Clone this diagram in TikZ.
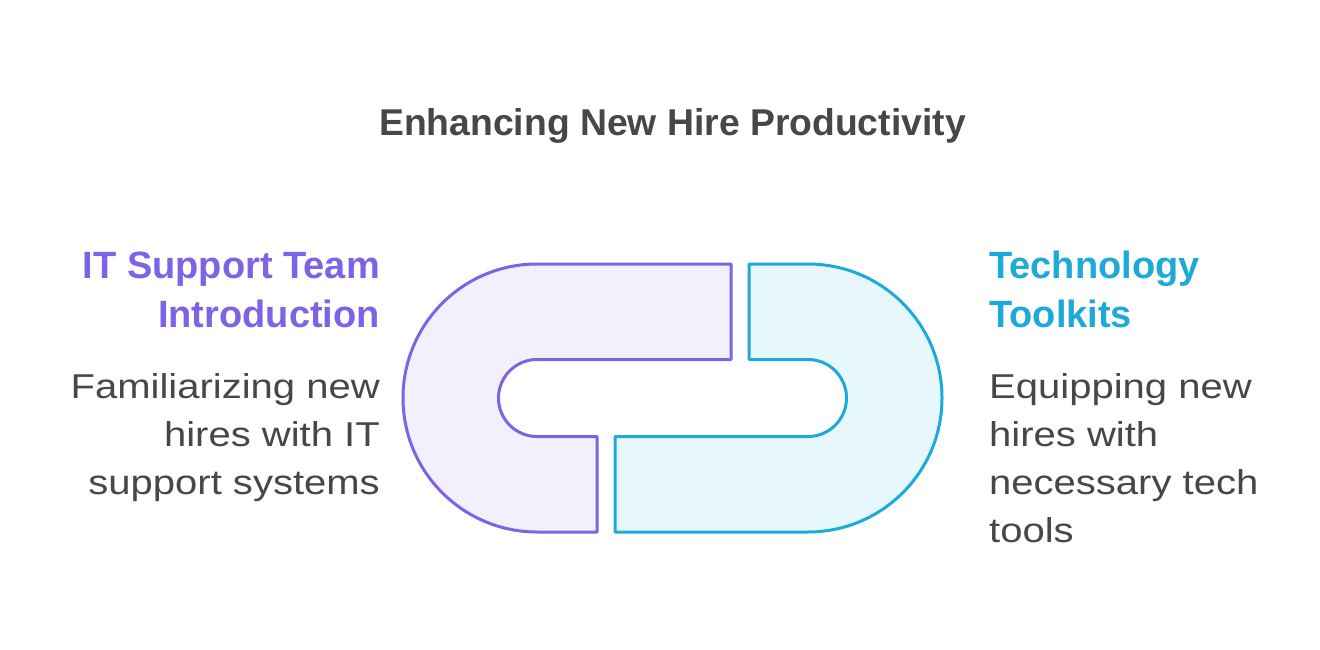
\documentclass[tikz,border=0pt]{standalone}
\usepackage{fontspec}
\setmainfont{Liberation Sans}
\newfontfamily\bodyfont[FakeStretch=1.16]{Liberation Sans}
\definecolor{purp}{HTML}{7D63E6}
\definecolor{purpfill}{HTML}{F2F0FD}
\definecolor{cyanb}{HTML}{1EAAD9}
\definecolor{cyanfill}{HTML}{E6F7FD}
\definecolor{txt}{HTML}{474747}
\tikzset{
  link/.style={line width=3pt, line join=round},
  heading/.style={font=\fontsize{38}{49}\selectfont\bfseries, inner sep=0pt},
  body/.style={font=\bodyfont\fontsize{34.5}{48}\selectfont, text=txt, inner sep=0pt},
  titletext/.style={font=\fontsize{37.3}{44}\selectfont\bfseries, text=txt, inner sep=0pt}
}
\begin{document}
\begin{tikzpicture}[x=1pt,y=-1pt]
\useasboundingbox[fill=white] (0,0) rectangle (1320,650);
% left link (purple)
\draw[link, draw=purp, fill=purpfill]
  (731,264) -- (537,264) arc[start angle=-90, end angle=-270, radius=134]
  -- (597,532) -- (597,436.5) -- (537,436.5)
  arc[start angle=90, end angle=270, radius=38.5]
  -- (731,359.5) -- cycle;
% right link (blue)
\draw[link, draw=cyanb, fill=cyanfill]
  (749,264) -- (808,264) arc[start angle=-90, end angle=90, radius=134]
  -- (615,532) -- (615,436.5) -- (808,436.5)
  arc[start angle=90, end angle=-90, radius=38.5]
  -- (749,359.5) -- cycle;
% title
\node[titletext, anchor=base] (title) at (672.5,135.5) {Enhancing New Hire Productivity};
% left texts
\node[heading, text=purp, align=right, anchor=base east] (lhead) at (380,327) {IT Support Team\\Introduction};
\node[body, align=right, anchor=base east] (lbody) at (380,494) {Familiarizing new\\hires with IT\\support systems};
% right texts
\node[heading, text=cyanb, align=left, anchor=base west] (rhead) at (989,327) {Technology\\Toolkits};
\node[body, align=left, anchor=base west] (rbody) at (989,542) {Equipping new\\hires with\\necessary tech\\tools};
\end{tikzpicture}
\end{document}
